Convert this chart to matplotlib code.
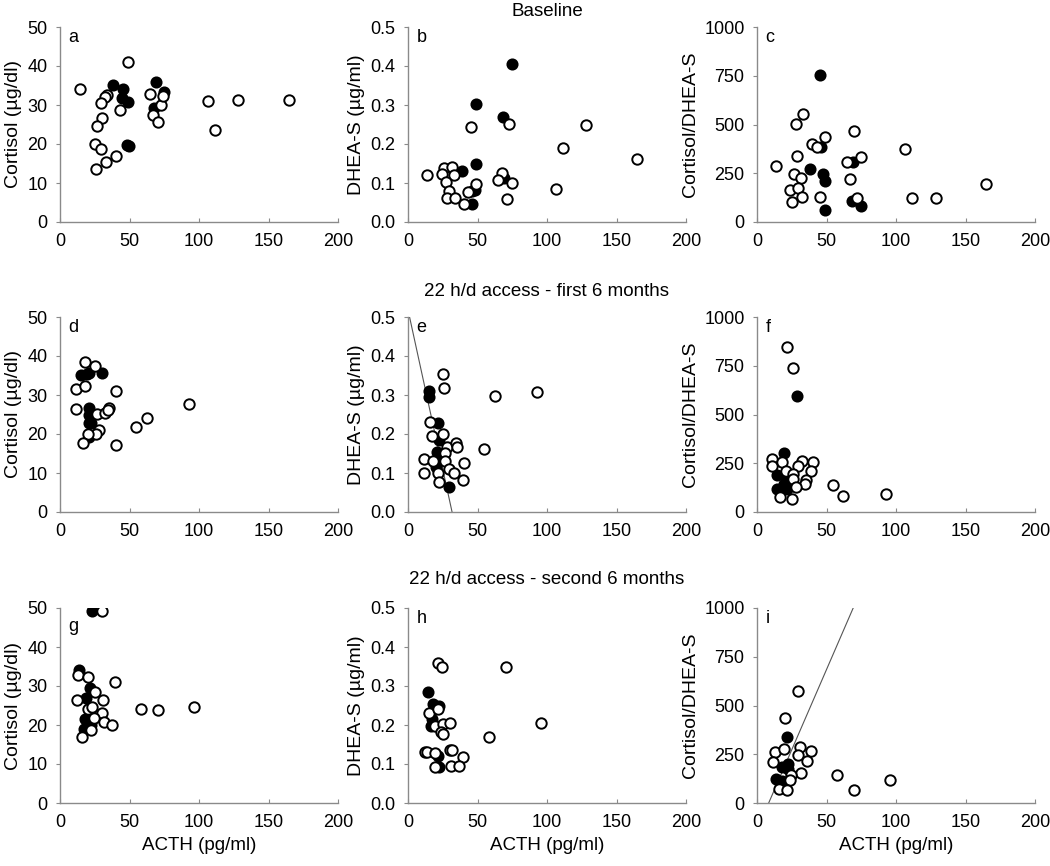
import matplotlib.pyplot as plt

plt.rcParams['font.family'] = ['Liberation Sans', 'DejaVu Sans']

# ---- data (ACTH in pg/ml) ----
# a: cortisol, baseline
a_open_x = [14.4, 48.6, 33.5, 32.3, 29.2, 29.9, 26.8, 25.1, 29.5, 33.1, 40.2, 25.9, 43.1,
            64.7, 66.6, 70.7, 72.6, 74.3, 106.6, 111.4, 128.1, 164.8]
a_open_y = [34.1, 41.0, 32.6, 32.0, 30.4, 26.7, 24.7, 20.0, 18.7, 15.4, 17.0, 13.7, 28.8,
            32.8, 27.4, 25.7, 30.1, 32.4, 31.1, 23.6, 31.3, 31.3]
a_fill_x = [38.3, 45.5, 44.8, 49.1, 47.9, 49.3, 69.0, 74.7, 67.5]
a_fill_y = [35.2, 34.1, 31.7, 30.7, 19.8, 19.4, 35.8, 33.4, 29.2]

# b: DHEA-S, baseline
b_open_x = [13.9, 45.2, 72.8, 128.1, 111.3, 165.1, 106.5, 70.9, 74.8, 67.3, 64.9, 25.7,
            32.0, 24.8, 33.2, 27.2, 29.6, 28.4, 33.7, 40.1, 43.3, 48.8]
b_open_y = [0.121, 0.244, 0.252, 0.250, 0.191, 0.162, 0.085, 0.058, 0.099, 0.125, 0.107,
            0.139, 0.142, 0.122, 0.120, 0.103, 0.079, 0.062, 0.061, 0.045, 0.077, 0.097]
b_fill_x = [74.5, 48.8, 68.5, 48.8, 38.7, 45.7, 48.1, 46.2, 69.2]
b_fill_y = [0.404, 0.302, 0.270, 0.148, 0.132, 0.079, 0.081, 0.047, 0.114]

# c: cortisol/DHEA-S, baseline
c_open_x = [13.9, 33.2, 28.4, 39.7, 48.6, 28.8, 26.4, 32.0, 24.0, 29.3, 25.5, 32.7, 45.0,
            43.3, 64.4, 69.7, 74.5, 66.6, 72.1, 106.5, 111.3, 128.6, 165.1]
c_open_y = [287, 556, 504, 402, 436, 338, 248, 227, 164, 173, 101, 130, 130,
            385, 309, 467, 335, 222, 121, 373, 125, 125, 193]
c_fill_x = [45.2, 45.7, 38.0, 47.4, 48.8, 48.8, 69.0, 68.0, 74.5]
c_fill_y = [752, 386, 270, 244, 210, 63, 308, 108, 82]

# d: cortisol, first 6 months
d_open_x = [17.8, 25.0, 11.8, 18.0, 40.1, 11.3, 26.4, 32.5, 35.3, 34.6, 28.1, 25.7, 20.4,
            16.8, 40.1, 55.0, 62.5, 93.0]
d_open_y = [38.4, 37.5, 31.5, 32.3, 30.9, 26.3, 25.1, 25.5, 26.6, 26.1, 21.1, 20.1, 20.1,
            17.7, 17.1, 21.8, 24.2, 27.6]
d_fill_x = [14.9, 19.2, 20.9, 30.0, 20.9, 20.9, 20.9, 22.1, 20.9]
d_fill_y = [35.2, 35.4, 35.6, 35.6, 26.6, 24.8, 22.7, 22.8, 19.2]

# e: DHEA-S, first 6 months
e_open_x = [25.2, 25.7, 62.3, 92.5, 16.1, 17.3, 25.0, 28.1, 34.6, 35.3, 55.0, 11.3, 18.0,
            26.4, 26.4, 11.8, 21.4, 29.8, 32.9, 40.6, 39.7, 22.1]
e_open_y = [0.354, 0.317, 0.297, 0.307, 0.230, 0.196, 0.200, 0.166, 0.178, 0.166, 0.161,
            0.136, 0.130, 0.151, 0.131, 0.101, 0.101, 0.111, 0.099, 0.125, 0.082, 0.078]
e_fill_x = [14.9, 14.9, 21.4, 22.1, 20.9, 21.4, 20.4, 29.8]
e_fill_y = [0.310, 0.296, 0.228, 0.184, 0.155, 0.136, 0.116, 0.063]
e_line_x = [1.0, 31.7]
e_line_y = [0.502, 0.0]

# f: cortisol/DHEA-S, first 6 months
f_open_x = [21.9, 26.0, 11.1, 10.8, 18.0, 32.7, 29.8, 40.4, 39.2, 21.2, 26.0, 26.0, 34.9,
            34.4, 27.9, 16.3, 25.5, 54.8, 62.0, 92.8]
f_open_y = [845, 737, 272, 238, 255, 263, 238, 255, 212, 212, 194, 169, 164,
            146, 129, 77, 65, 139, 83, 91]
f_fill_x = [29.1, 19.5, 14.7, 21.2, 14.7, 21.6, 19.5]
f_fill_y = [594, 303, 189, 177, 117, 117, 143]

# g: cortisol, second 6 months
g_open_x = [30.0, 13.2, 20.2, 39.7, 25.2, 12.0, 31.0, 20.4, 23.3, 30.5, 24.5, 32.0, 37.3,
            22.1, 16.1, 58.2, 70.7, 96.2]
g_open_y = [49.2, 32.8, 32.4, 30.9, 28.5, 26.4, 26.4, 24.1, 24.7, 23.0, 21.9, 20.8, 19.9,
            18.6, 16.9, 24.2, 23.8, 24.5]
g_fill_x = [22.8, 13.7, 21.4, 18.5, 21.6, 17.8, 22.8, 22.1, 17.3]
g_fill_y = [49.2, 34.1, 29.6, 26.8, 23.6, 21.6, 21.5, 20.0, 18.9]

# h: DHEA-S, second 6 months
h_open_x = [21.6, 24.5, 70.7, 95.4, 58.2, 15.4, 21.6, 19.7, 25.0, 30.5, 24.0, 25.0, 12.0,
            13.7, 19.7, 30.5, 31.7, 39.7, 31.2, 37.0, 19.7]
h_open_y = [0.358, 0.348, 0.348, 0.204, 0.169, 0.232, 0.241, 0.198, 0.202, 0.204, 0.182,
            0.176, 0.131, 0.131, 0.129, 0.136, 0.137, 0.119, 0.096, 0.096, 0.092]
h_fill_x = [14.4, 18.0, 22.6, 17.3, 16.6, 21.6, 22.1]
h_fill_y = [0.284, 0.253, 0.249, 0.215, 0.198, 0.120, 0.092]

# i: cortisol/DHEA-S, second 6 months
i_open_x = [29.6, 20.0, 13.2, 19.2, 30.8, 29.6, 39.2, 36.3, 11.5, 32.0, 24.8, 24.0, 15.9,
            21.9, 57.7, 70.0, 95.7]
i_open_y = [572, 435, 261, 278, 287, 246, 266, 215, 210, 155, 146, 120, 72,
            69, 146, 69, 120]
i_fill_x = [21.9, 22.4, 18.0, 22.4, 13.5, 18.3, 16.8]
i_fill_y = [338, 201, 184, 172, 124, 115, 103]
i_line_x = [8.4, 69.2]
i_line_y = [0, 1000]

cortisol_ticks = [0, 10, 20, 30, 40, 50]
dheas_ticks = [0.0, 0.1, 0.2, 0.3, 0.4, 0.5]
ratio_ticks = [0, 250, 500, 750, 1000]
acth_ticks = [0, 50, 100, 150, 200]

row_titles = ["Baseline", "22 h/d access - first 6 months", "22 h/d access - second 6 months"]
ylabels = ["Cortisol (\u00b5g/dl)", "DHEA-S (\u00b5g/ml)", "Cortisol/DHEA-S"]

panels = [
    ("a", a_open_x, a_open_y, a_fill_x, a_fill_y, None),
    ("b", b_open_x, b_open_y, b_fill_x, b_fill_y, None),
    ("c", c_open_x, c_open_y, c_fill_x, c_fill_y, None),
    ("d", d_open_x, d_open_y, d_fill_x, d_fill_y, None),
    ("e", e_open_x, e_open_y, e_fill_x, e_fill_y, (e_line_x, e_line_y)),
    ("f", f_open_x, f_open_y, f_fill_x, f_fill_y, None),
    ("g", g_open_x, g_open_y, g_fill_x, g_fill_y, None),
    ("h", h_open_x, h_open_y, h_fill_x, h_fill_y, None),
    ("i", i_open_x, i_open_y, i_fill_x, i_fill_y, (i_line_x, i_line_y)),
]

fig = plt.figure(figsize=(10.5, 8.66), dpi=100)

col_left = [60 / 1050, 408 / 1050, 757 / 1050]
row_bottom = [1 - 222 / 866, 1 - 512 / 866, 1 - 803 / 866]
title_y = [1 - 11 / 866, 1 - 292 / 866, 1 - 580 / 866]
w = 278 / 1050
h = 195 / 866
gray = "#8a8a8a"

for k, (letter, ox, oy, fx, fy, line) in enumerate(panels):
    r, c = divmod(k, 3)
    ax = fig.add_axes([col_left[c], row_bottom[r], w, h])
    if line is not None:
        ax.plot(line[0], line[1], color="#555555", lw=0.8, zorder=1)
    ax.plot(fx, fy, "o", ms=7.5, mfc="black", mec="black", mew=1.2, zorder=2)
    ax.plot(ox, oy, "o", ms=7.5, mfc="white", mec="black", mew=1.4, zorder=3)

    ax.set_xlim(0, 200)
    ax.set_xticks(acth_ticks)
    if c == 0:
        ax.set_ylim(0, 50)
        ax.set_yticks(cortisol_ticks)
    elif c == 1:
        ax.set_ylim(0, 0.5)
        ax.set_yticks(dheas_ticks)
        ax.set_yticklabels([f"{t:.1f}" for t in dheas_ticks])
    else:
        ax.set_ylim(0, 1000)
        ax.set_yticks(ratio_ticks)
    ax.set_ylabel(ylabels[c], fontsize=14, labelpad=4)
    if r == 2:
        ax.set_xlabel("ACTH (pg/ml)", fontsize=13.5, labelpad=4)

    for s in ["top", "right"]:
        ax.spines[s].set_visible(False)
    for s in ["left", "bottom"]:
        ax.spines[s].set_color(gray)
        ax.spines[s].set_linewidth(1.0)
    ax.tick_params(axis="x", direction="in", length=3, color=gray, labelsize=13, pad=8)
    ax.tick_params(axis="y", direction="out", length=3, color=gray, labelsize=13, pad=6)
    # panel g's letter sits a bit lower in the original (points crowd the top)
    ly = 0.95 if letter == "g" else 0.99
    ax.text(0.03, ly, letter, transform=ax.transAxes, fontsize=13, va="top", ha="left")

for r, title in enumerate(row_titles):
    fig.text(col_left[1] + w / 2, title_y[r], title, fontsize=13.5, ha="center", va="center")

fig.savefig("out.png", dpi=100)
